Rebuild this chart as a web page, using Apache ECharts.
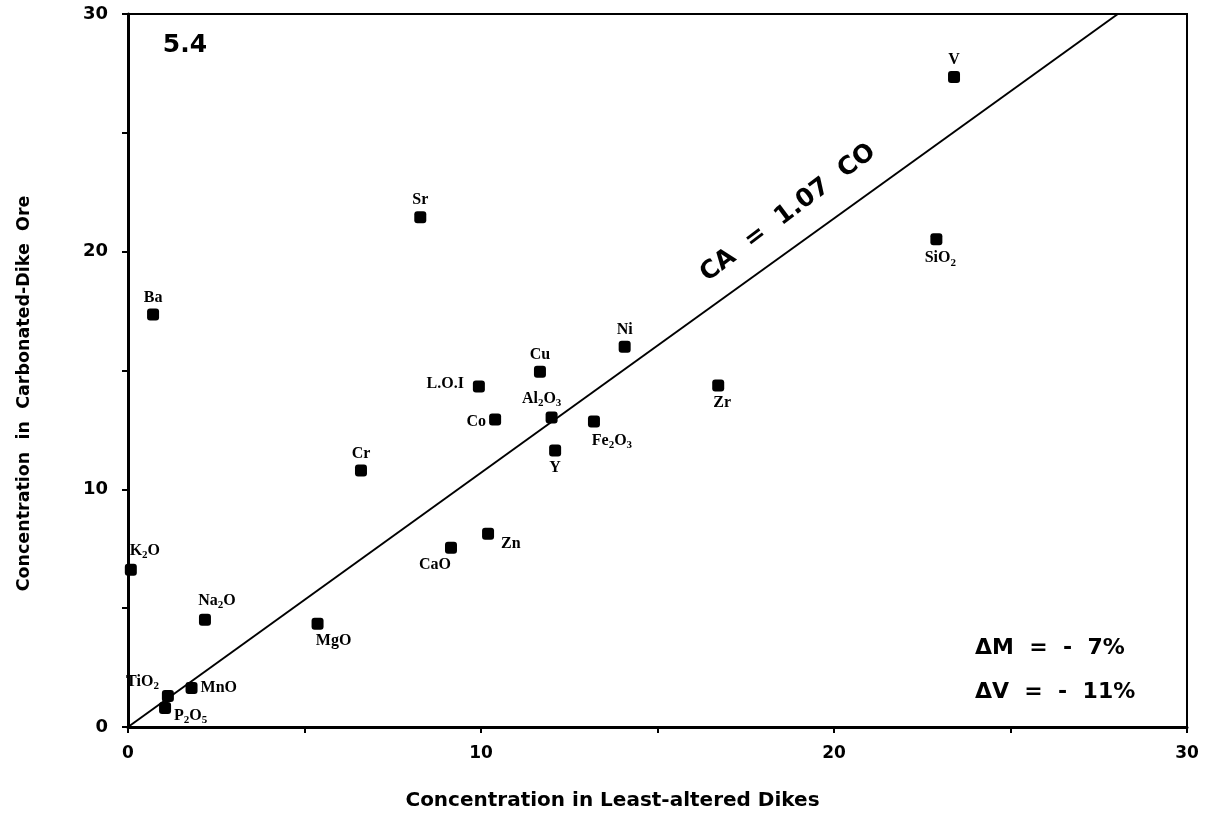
<!DOCTYPE html>
<html>
<head>
<meta charset="utf-8">
<script src="https://cdn.jsdelivr.net/npm/echarts@6/dist/echarts.min.js"></script>
<style>
  html, body { margin: 0; padding: 0; background: #fff; }
  #chart { width: 1217px; height: 820px; }
</style>
</head>
<body>
<div id="chart"></div>
<script>
// Element / oxide names (rich text markup for subscripts)
const names = [
  "V", "{a|SiO}{s|2}", "Sr", "Ba", "Ni", "Cu", "L.O.I", "Zr", "Co",
  "{a|Al}{s|2}{a|O}{s|3}", "{a|Fe}{s|2}{a|O}{s|3}", "Y", "Cr", "Zn", "CaO",
  "{a|K}{s|2}{a|O}", "{a|Na}{s|2}{a|O}", "MgO", "MnO", "{a|TiO}{s|2}", "{a|P}{s|2}{a|O}{s|5}"
]
// concentration in least-altered dikes (CO)
const leastAltered = [
  23.4, 22.9, 8.28, 0.71, 14.07, 11.67, 9.94, 16.72, 10.4,
  12.0, 13.2, 12.1, 6.6, 10.2, 9.15,
  0.08, 2.18, 5.37, 1.8, 1.13, 1.05
]
// concentration in carbonated-dike ore (CA)
const carbonated = [
  27.35, 20.52, 21.45, 17.36, 16.0, 14.95, 14.33, 14.37, 12.94,
  13.02, 12.85, 11.63, 10.79, 8.13, 7.54,
  6.62, 4.51, 4.34, 1.64, 1.3, 0.8
]
// where each label sits relative to its square
const labelPos = [
  "top", "bottom", "top", "top", "top", "top", "left", "bottom", "left",
  "top", "bottom", "bottom", "top", "right", "bottom",
  "top", "top", "bottom", "right", "left", "right"
]
const labelOffset = [
  [0, 0], [4, 0], [0, 0], [0, 0], [0, 0], [0, 0], [-6, -3], [4, 0], [0, 2],
  [-10, 0], [18, 0], [0, 0], [0, 0], [4, 10], [-16, 0],
  [14, 0], [12, 0], [16, 0], [0, 0], [0, -14], [0, 8]
]
// reference line CA = 1.07 CO
const lineCO = [0, 28.04]
const lineCA = [0, 30]

const xTicks = [0, 10, 20, 30]
const yTicks = [0, 10, 20, 30]

const chart = echarts.init(document.getElementById("chart"))

const points = names.map((n, i) => ({
  value: [leastAltered[i], carbonated[i]],
  label: {
    show: true,
    formatter: n,
    position: labelPos[i],
    offset: labelOffset[i],
    distance: 3,
  },
}))

const labelFont = "Liberation Serif"
const axisFont = "DejaVu Sans"

const option = {
  backgroundColor: "#fff",
  animation: false,
  grid: {
    left: 128,
    right: 30,
    top: 14,
    bottom: 93,
    show: true,
    borderColor: "#000",
    borderWidth: 2,
  },
  xAxis: {
    type: "value",
    min: 0,
    max: 30,
    interval: 5,
    name: "Concentration in Least-altered Dikes",
    nameLocation: "middle",
    nameGap: 64,
    nameTextStyle: { fontFamily: axisFont, fontWeight: "bold", fontSize: 20, color: "#000", padding: [0, 90, 0, 0] },
    axisLine: { lineStyle: { color: "#000", width: 3 } },
    axisTick: { show: true, length: 6, lineStyle: { color: "#000", width: 2 } },
    axisLabel: {
      fontFamily: axisFont,
      fontWeight: "bold",
      fontSize: 17,
      color: "#000",
      margin: 18,
      formatter: v => (xTicks.includes(v) ? String(v) : ""),
    },
    splitLine: { show: false },
  },
  yAxis: {
    type: "value",
    min: 0,
    max: 30,
    interval: 5,
    name: "Concentration  in  Carbonated-Dike  Ore",
    nameLocation: "middle",
    nameGap: 95,
    nameTextStyle: { fontFamily: axisFont, fontWeight: "bold", fontSize: 17.5, color: "#000", padding: [0, 46, 0, 0] },
    axisLine: { lineStyle: { color: "#000", width: 3 } },
    axisTick: { show: true, length: 6, lineStyle: { color: "#000", width: 2 } },
    axisLabel: {
      fontFamily: axisFont,
      fontWeight: "bold",
      fontSize: 18,
      color: "#000",
      margin: 20,
      formatter: v => (yTicks.includes(v) ? String(v) : ""),
    },
    splitLine: { show: false },
  },
  series: [
    {
      type: "line",
      data: lineCO.map((x, i) => [x, lineCA[i]]),
      symbol: "none",
      lineStyle: { color: "#000", width: 2 },
      z: 1,
    },
    {
      type: "scatter",
      symbol: "roundRect",
      symbolSize: 12,
      itemStyle: { color: "#000", opacity: 1 },
      label: {
        color: "#000",
        fontFamily: labelFont,
        fontWeight: "bold",
        fontSize: 16,
        rich: {
          a: { fontFamily: labelFont, fontWeight: "bold", fontSize: 16, color: "#000" },
          s: { fontFamily: labelFont, fontWeight: "bold", fontSize: 11, color: "#000", padding: [9, 0, 0, 0] },
        },
      },
      data: points,
      z: 3,
    },
  ],
  graphic: [
    {
      type: "text",
      x: 185,
      y: 45,
      style: { text: "5.4", fontFamily: axisFont, fontWeight: "bold", fontSize: 25, fill: "#000", align: "center", verticalAlign: "middle" },
    },
    {
      type: "text",
      x: 788,
      y: 213,
      rotation: (37 * Math.PI) / 180,
      style: { text: "CA  =  1.07  CO", fontFamily: axisFont, fontWeight: "bold", fontSize: 25, fill: "#000", align: "center", verticalAlign: "middle" },
    },
    {
      type: "text",
      x: 975,
      y: 648,
      style: { text: "ΔM  =  -  7%", fontFamily: axisFont, fontWeight: "bold", fontSize: 22, fill: "#000", align: "left", verticalAlign: "middle" },
    },
    {
      type: "text",
      x: 975,
      y: 692,
      style: { text: "ΔV  =  -  11%", fontFamily: axisFont, fontWeight: "bold", fontSize: 22, fill: "#000", align: "left", verticalAlign: "middle" },
    },
  ],
}

chart.setOption(option)
</script>
</body>
</html>
